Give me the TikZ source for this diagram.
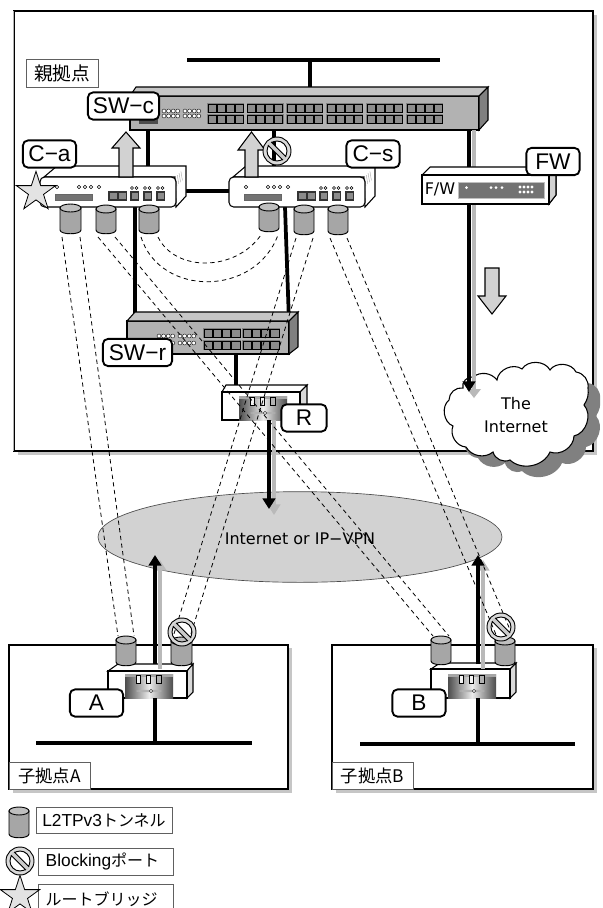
\documentclass[tikz,border=0pt]{standalone}
\usepackage{fontspec}
\setmainfont{Liberation Sans}
\newfontfamily\jp{Noto Sans CJK JP}
\newfontfamily\djv{DejaVu Sans}
\usetikzlibrary{shapes.geometric,arrows.meta,calc}
\tikzset{
  x=0.75pt,y=-0.75pt,
  boxline/.style={draw=black,line width=0.8pt,fill=white},
  tagbox/.style={draw=gray!75!black,line width=0.6pt,fill=white,inner sep=0pt,outer sep=0pt},
  tagl/.style={draw=black,line width=1.4pt,fill=white,rounded corners=4pt,inner sep=0pt,outer sep=0pt,minimum height=20.5pt,font=\fontsize{17}{17}\selectfont},
  wire/.style={draw=black,line width=2.8pt},
  graywire/.style={draw=gray!55,line width=2.8pt},
  headblk/.style={wire,-{Triangle[width=9.5pt,length=8pt]}},
  headgry/.style={graywire,-{Triangle[width=9.5pt,length=8pt]}},
  tunnel/.style={draw=black,line width=0.6pt,dash pattern=on 3.2pt off 2.6pt},
  face/.style={draw=black,line width=0.8pt,inner sep=0pt,outer sep=0pt},
  blockarrow/.style={draw=black,line width=0.8pt,fill=gray!35},
  starshp/.style={star,star points=5,star point ratio=2.618,draw=black,line width=0.6pt,fill=gray!22,inner sep=0pt,outer sep=0pt,minimum size=31pt},
}
% name x1 y1 x2 y2 style
\newcommand{\facenode}[6]{\node[face,#6,minimum width={(#4-#2)*0.75pt},minimum height={(#5-#3)*0.75pt}] (#1) at ({(#2+#4)/2},{(#3+#5)/2}) {};}
% name xl yt xr yb
\newcommand{\mycyl}[5]{%
  \draw[line width=0.7pt,fill=gray!70] (#2,{#3+4}) -- (#2,{#5-4}) .. controls (#2,{#5+1}) and (#4,{#5+1}) .. (#4,{#5-4}) -- (#4,{#3+4}) -- cycle;
  \draw[line width=0.7pt,fill=gray!50] ({(#2+#4)/2},{#3+4}) ellipse [x radius={(#4-#2)/2},y radius=4];
  \coordinate (#1-l) at ({#2+2},{#5+3});
  \coordinate (#1-r) at ({#4-1},{#5+3});
  \coordinate (#1-tl) at ({#2+2},#3);
  \coordinate (#1-tr) at ({#4-2},#3);
}
\newcommand{\blocksym}[2]{%
  \begin{scope}[shift={(#1,#2)}]
    \draw[line width=0.7pt,fill=gray!30,even odd rule] (0,0) circle [radius=14] (0,0) circle [radius=10];
    \draw[line width=4pt,black] (-7.5,-7.5) -- (7.5,7.5);
    \draw[line width=2.6pt,gray!40] (-8,-8) -- (8,8);
  \end{scope}}
% ports: x y (group of 4) two rows
\newcommand{\portgroup}[4]{%
  \fill[gray] (#1,#2) rectangle ({#1+#3},{#2+#4});
  \foreach \k in {0,1,2,3}{\draw[black,line width=0.5pt,fill=black!45] ({#1+1+\k*(#3-1)/4},{#2+1}) rectangle ({#1+\k*(#3-1)/4+(#3-1)/4},{#2+#4-0.5});}}
\newcommand{\dotgroup}[3]{%
  \foreach \i in {0,1,2,3}\foreach \j in {0,1}{\draw[black,line width=0.3pt,fill=white] ({#1+2+\i*4.6},{#2+2+\j*#3}) circle [radius=2];}}
% C-type device: x offset
\newcommand{\cdevice}[2]{%
  \begin{scope}[shift={(#1,0)}]
    \draw[line width=0.8pt,fill=white] (4,177) -- (17,166) -- (146,166) -- (146,196) -- (136,207) -- (135,177) -- cycle;
    \foreach \s in {0,1.8,...,7}{\draw[gray!70,line width=0.3pt] ({135.5+\s},{177-\s*1.05}) -- ({137+\s},{186-\s*1.05});}
    \facenode{#2}{0}{177}{136}{207}{fill=white,rounded corners=3.5pt}
    \foreach \px in {17,39,45,51,59}{\draw[line width=0.35pt] (\px,187) circle [radius=1.7];}
    \fill[black!55,draw=black!60,line width=0.3pt] (15,194) rectangle (52,200);
    \fill[black!80] (68,191) rectangle (87,201);
    \foreach \px in {69.5,78.5}{\fill[black!45] (\px,192.5) rectangle ({\px+7},{199});}
    \foreach \px in {90,103,116}{
      \fill[black!80] (\px,191) rectangle ({\px+9},201);
      \fill[black!45] ({\px+1.5},192.5) rectangle ({\px+7.5},199);
      \draw[line width=0.3pt] ({\px+2},188) circle [radius=1.5] ({\px+6.5},188) circle [radius=1.5];}
  \end{scope}}
% router panel: x left
\newcommand{\rpanel}[2]{%
  \begin{scope}[shift={(#1,#2)}]
    \fill[left color=black!70,right color=black!70,middle color=gray!15] (0,0) rectangle (48,24);
    \fill[gray!70] (0,0) rectangle (48,3);
    \draw[line width=0.4pt,fill=gray!10] (11,1) rectangle (15,9);
    \draw[line width=0.4pt,fill=gray!10] (21,1) rectangle (25,9);
    \draw[line width=0.4pt,fill=gray!60] (31,1) rectangle (36,9);
    \fill[gray!60] (24,17) ellipse [x radius=13,y radius=1.2];
    \draw[line width=0.35pt,fill=white] (26,17) circle [radius=1.6];
  \end{scope}}
\newcommand{\cloudpath}{(463,388) to[bend left=60] (473,377) to[bend left=45] (497,380) to[bend left=60] (522,369) to[bend left=60] (550,370) to[bend left=60] (576,372) to[bend left=45] (588,388) to[bend left=20] (584,405) to[bend left=60] (574,436) to[bend left=55] (550,452) to[bend left=55] (510,460) to[bend left=50] (493,452) to[bend left=50] (466,447) to[bend left=55] (453,426) to[bend left=60] (449,400) to[bend left=50] (463,388) -- cycle}
\begin{document}
\begin{tikzpicture}
\useasboundingbox (0,0) rectangle (603,908);
\clip (0,0) rectangle (603,908);
\fill[white] (0,0) rectangle (603,908);
% sites
\fill[gray!45] (18,15) rectangle (597,455);
\draw[boxline] (14,11) rectangle (593,451);
\fill[gray!45] (13,648) rectangle (292,793);
\draw[boxline] (9,645) rectangle (288,789);
\fill[gray!45] (336,648) rectangle (597,793);
\draw[boxline] (332,645) rectangle (593,789);
\draw[gray!60,line width=1pt] (13.5,11) -- (13.5,451);
\facenode{tagm}{26}{59}{98}{87}{tagbox}
\node[font=\jp\fontsize{14}{14}\selectfont] at (tagm) {親拠点};
\facenode{taga}{9}{762}{90}{789}{tagbox}
\node[font=\jp\fontsize{13}{13}\selectfont] at (taga) {子拠点A};
\facenode{tagb}{332}{762}{413}{789}{tagbox}
\node[font=\jp\fontsize{13}{13}\selectfont] at (tagb) {子拠点B};
% WAN cloud
\node[ellipse,draw=black!70,line width=0.5pt,fill=gray!35,minimum width=303pt,minimum height=68pt,inner sep=0pt] (wan) at (300,537) {};
\node[font=\djv\fontsize{12}{12}\selectfont] at (300,539) {Internet or IP−VPN};
% Internet cloud
\begin{scope}[shift={(12,11)}]
\fill[gray] \cloudpath;
\end{scope}
\draw[line width=0.8pt,fill=white] \cloudpath;
\node[align=center,font=\djv\fontsize{12}{17}\selectfont] (inet) at (516,415) {The\\Internet};
\coordinate (inetin) at (469,392);
\coordinate (inetgr) at (474,397);
% buses
\coordinate (lan) at (310,60);
\draw[wire] (187,60) -- (440,60);
\draw[wire] (36,743) -- (252,743);
\draw[wire] (360,744) -- (575,744);
% main switch
\draw[wire] (lan) -- (310,96);
\facenode{swc}{130}{96}{479}{130}{fill=gray!60}
\draw[line width=0.8pt,fill=gray!45] (130,96) -- (136,87) -- (488,87) -- (479,96) -- cycle;
\draw[line width=0.8pt,fill=black!50] (479,96) -- (488,87) -- (488,120) -- (479,130) -- cycle;
\foreach \g in {207,246.5,286,326,366,406}{\portgroup{\g}{103}{37}{10}\portgroup{\g}{114}{37}{10}}
\dotgroup{162}{109}{5}\dotgroup{183}{109}{5}
\fill[black!70] (139,118) rectangle (158,124);
% lines from the main switch
\coordinate (swc-a) at (148,130);
\coordinate (swc-s) at (274,130);
\coordinate (swc-f) at (469,130);
\coordinate (swc-g) at (474,130);
\draw[wire] (swc-a) -- (148,177);
\draw[wire] (swc-s) -- (274,177);
\draw[graywire] (swc-g) -- (474,390);
\fill[gray!55] (467,389) -- (481,389) -- (474,398) -- cycle;
\draw[headblk] (swc-f) -- (inetin);
% FW
\draw[line width=0.8pt,fill=white] (422,175) -- (430,167) -- (556,167) -- (556,195) -- (549,204) -- cycle;
\draw[line width=0.8pt,fill=gray!35] (549,175) -- (556,167) -- (556,195) -- (549,204) -- cycle;
\facenode{fw}{422}{175}{549}{204}{fill=white}
\fill[black!55,draw=gray!50,line width=0.3pt] (458,182) rectangle (544,198);
\node[font=\djv\fontsize{12}{12}\selectfont,inner sep=0pt] at (440,189) {F/W};
\fill[white] (466.5,187.5) circle [radius=1.5];
\foreach \px in {491,496,502}{\fill[white] (\px,187.5) circle [radius=1.5];}
\foreach \px in {520,524,528,532}\foreach \py in {187,192}{\fill[white] (\px,\py) circle [radius=1.6];}
% switch under the clients
\coordinate (ca-d) at (135,207);
\coordinate (cs-d) at (285,207);
\coordinate (swr-l) at (135,322);
\coordinate (swr-r) at (289,322);
\draw[wire] (ca-d) -- (swr-l);
\draw[wire] (cs-d) -- (swr-r);
\facenode{swr}{127}{321}{289}{354}{fill=gray!60}
\draw[line width=0.8pt,fill=gray!45] (127,321) -- (135,312) -- (298,312) -- (289,321) -- cycle;
\draw[line width=0.8pt,fill=black!50] (289,321) -- (298,312) -- (298,347) -- (289,354) -- cycle;
\foreach \g in {203,242}{\portgroup{\g}{328}{38}{10}\portgroup{\g}{340}{38}{10}}
\dotgroup{157}{334}{7}\dotgroup{178}{334}{7}
% router R
\coordinate (r-in) at (236,385);
\coordinate (r-out) at (269,420);
\coordinate (r-gout) at (274,420);
\draw[wire] (swr.south -| r-in) -- (r-in);
\draw[line width=0.8pt,fill=white] (222,392) -- (226,385) -- (307,385) -- (300,392) -- cycle;
\draw[line width=0.8pt,fill=gray!30] (300,392) -- (307,385) -- (307,412) -- (300,420) -- cycle;
\facenode{rr}{222}{392}{300}{420}{fill=white}
\rpanel{239}{396}
\draw[headgry] (r-gout) -- (274,515);
\draw[headblk] (r-out) -- (269,509);
% clients
\draw[wire] (175,191) -- (230,191);
\cdevice{40}{ca}
\cdevice{229}{cs}
% routers A and B
\draw[line width=0.8pt,fill=white] (108,671) -- (118,664) -- (193,664) -- (187,671) -- cycle;
\draw[line width=0.8pt,fill=gray!30] (187,671) -- (193,664) -- (193,692) -- (187,698) -- cycle;
\facenode{ra}{108}{671}{187}{698}{fill=white}
\rpanel{125}{674}
\draw[wire] (155,698) -- (155,743);
\draw[line width=0.8pt,fill=white] (431,669) -- (440,663) -- (516,663) -- (510,669) -- cycle;
\draw[line width=0.8pt,fill=gray!30] (510,669) -- (516,663) -- (516,692) -- (510,698) -- cycle;
\facenode{rb}{431}{669}{510}{698}{fill=white}
\rpanel{448}{674}
\draw[wire] (478,698) -- (478,744);
% uplink arrows of the branch sites
\coordinate (ra-b) at (155,664);
\coordinate (ra-g) at (160,669);
\coordinate (rb-b) at (478,664);
\coordinate (rb-g) at (483,669);
\draw[headgry] (ra-g) -- (160,560);
\draw[headblk] (ra-b) -- (155,555);
\draw[headgry] (rb-g) -- (483,560);
\draw[headblk] (rb-b) -- (478,555);
% tunnels
\mycyl{c1}{60}{204}{81}{234}
\mycyl{c2}{96}{205}{116}{234}
\mycyl{c3}{139}{205}{159}{234}
\mycyl{c4}{259}{203}{279}{232}
\mycyl{c5}{294}{205}{314}{235}
\mycyl{c6}{328}{205}{348}{235}
\mycyl{a1}{116}{636}{136}{666}
\mycyl{a2}{171}{637}{192}{666}
\mycyl{b1}{431}{636}{451}{665}
\mycyl{b2}{495}{637}{515}{666}
\draw[tunnel] (c1-l) -- (a1-tl);
\draw[tunnel] (c1-r) -- (a1-tr);
\draw[tunnel] (c2-l) -- (b1-tl);
\draw[tunnel] (c2-r) -- (b1-tr);
\draw[tunnel] (c5-l) -- (a2-tl);
\draw[tunnel] (c5-r) -- (a2-tr);
\draw[tunnel] (c6-l) -- (b2-tl);
\draw[tunnel] (c6-r) -- (b2-tr);
\draw[tunnel] (c3-r) .. controls (175,272) and (235,272) .. (c4-l);
\draw[tunnel] (c3-l) .. controls (160,297) and (255,297) .. (c4-r);
% block arrows
\draw[blockarrow] (119,177) -- (119,148) -- (112,148) -- (126,132) -- (140,148) -- (133,148) -- (133,177) -- cycle;
\draw[blockarrow] (245,177) -- (245,150) -- (238,150) -- (251.5,132) -- (265,150) -- (258,150) -- (258,177) -- cycle;
\draw[blockarrow] (485,268) -- (499,268) -- (499,296) -- (506,296) -- (492,314) -- (478,296) -- (485,296) -- cycle;
% symbols
\blocksym{277}{151}
\blocksym{182}{632}
\blocksym{501}{627}
\node[starshp] (stara) at (36,192) {};
% labels
\node[tagl,minimum width=53.5pt] (lswc) at (123.5,106) {SW−c};
\node[tagl,minimum width=40pt] (lca) at (49.5,154) {C−a};
\node[tagl,minimum width=40pt] (lcs) at (373,154) {C−s};
\node[tagl,minimum width=40pt] (lfw) at (553,161.5) {FW};
\node[tagl,minimum width=52pt] (lswr) at (137.5,352.5) {SW−r};
\node[tagl,minimum width=34pt] (lr) at (304,418) {R};
\node[tagl,minimum width=40pt] (la) at (96.5,703) {A};
\node[tagl,minimum width=40pt] (lb) at (419,703) {B};
% legend
\mycyl{lg}{9}{807}{29}{838}
\facenode{lg1}{36}{807}{172}{833}{draw=gray!75!black,line width=0.6pt,fill=white}
\node[font=\fontsize{13}{13}\selectfont] at (lg1) {L2TPv3{\jp\fontsize{12}{12}\selectfont トンネル}};
\blocksym{20}{861}
\facenode{lg2}{38}{848}{173}{875}{draw=gray!75!black,line width=0.6pt,fill=white}
\node[font=\fontsize{13}{13}\selectfont,anchor=west] at (41,861.5) {Blocking{\jp\fontsize{12}{12}\selectfont ポート}};
\facenode{lg3}{38}{884}{173}{920}{draw=gray!75!black,line width=0.6pt,fill=white}
\node[starshp] (starb) at (20,896) {};
\node[font=\jp\fontsize{12}{12}\selectfont,anchor=west] at (41,899) {ルートブリッジ};
\end{tikzpicture}
\end{document}
